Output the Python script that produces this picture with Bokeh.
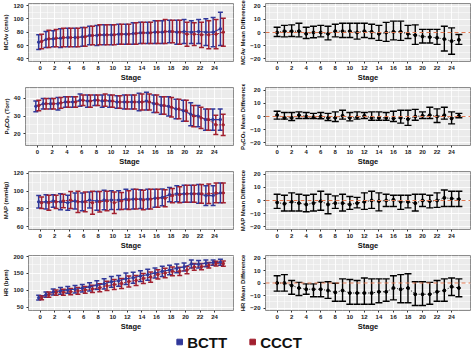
from bokeh.plotting import figure
from bokeh.models import (ColumnDataSource, Whisker, TeeHead, Span, FixedTicker,
                          Legend, LegendItem, Range1d)
from bokeh.layouts import column, row
from bokeh.transform import dodge
from bokeh.embed import file_html
from bokeh.resources import INLINE

stages = list(range(26))
x_ticks = list(range(0, 25, 2))
x_minor = list(range(-1, 27, 2))

# ---- MCAv ----
mcav_bctt_mean = [65, 69, 70, 71, 72, 72, 73, 75, 75, 76, 76, 77, 77, 78, 79, 79, 80, 80, 81, 80, 81, 80, 81, 80, 80, 85]
mcav_bctt_sd = [11, 12, 12, 14, 14, 14, 14, 14, 15, 15, 15, 15, 15, 16, 16, 16, 17, 17, 17, 18, 18, 17, 18, 20, 22, 25]
mcav_ccct_mean = [66, 70, 71, 72, 72, 72, 73, 75, 76, 76, 76, 77, 77, 78, 79, 79, 80, 81, 81, 80, 77, 77, 76, 76, 77, 80]
mcav_ccct_sd = [11, 13, 13, 14, 14, 14, 14, 14, 15, 15, 15, 15, 15, 16, 16, 16, 17, 18, 17, 18, 18, 17, 19, 21, 22, 21]
mcav_diff_mean = [0, 1, 1, 1, -1, 0, 0, -1, 1, 1, 1, 0, 1, 0.5, -1, 0, 0.5, 0.5, -1, -2, -3, -3.5, -4, -5, -6.5, -5.5]
mcav_diff_hi = [4, 5.4, 5.8, 7, 4, 4.7, 5.4, 4.7, 6.3, 7, 7, 7, 7, 6.3, 5.4, 7.7, 8.6, 8.6, 5.4, 5.8, 2.4, 2.4, 2.4, 4.7, 3.5, -1.5]
mcav_diff_lo = [-3, -3.3, -3, -3.3, -4.5, -4, -3.3, -5.6, -3.3, -3.8, -3.8, -5, -3.8, -4.5, -6, -6.7, -5.6, -6, -4.5, -9, -8, -8, -9, -14, -16.5, -9]

# ---- PETCO2 ----
pet_bctt_mean = [35.5, 37, 37, 37, 38, 38, 39, 38.5, 39, 38.5, 38.5, 38, 38, 38, 38, 38.5, 37, 36, 35.5, 34, 33, 31, 30, 28, 28, 28]
pet_bctt_sd = [3, 3, 3, 3.5, 3, 3, 3.5, 3.5, 3, 3.5, 3.5, 3.5, 4, 4, 5, 5, 5, 5, 5.5, 5.5, 6, 6.5, 6, 6, 6, 6]
pet_ccct_mean = [36, 37, 37, 37.5, 38, 38, 39, 38.5, 39, 39, 38.5, 38, 38, 38, 38, 38, 37, 36, 35, 34, 33, 30, 29, 28, 25, 25]
pet_ccct_sd = [3, 3, 3, 3, 3, 3, 3, 3.5, 3, 3.5, 3.5, 3.5, 4, 4, 4.5, 4.5, 5, 5, 5.5, 5.5, 6, 6, 6, 6, 5.5, 6]
pet_diff_mean = [1, -1, -1, 1, 0, -0.5, 0, -1, -1, 0.5, -1, -0.5, 0.5, -1, -1, -1, -1.5, -1, -2, 0, 0.5, 1, 0, 1, -1.5, 0.5]
pet_diff_hi = [4, 3, 3, 3.5, 3, 2.4, 3, 2.4, 3.5, 4.7, 3, 3.5, 3, 3.5, 3.5, 3, 4, 4.7, 4.7, 5.4, 3.5, 7, 5.8, 7, 3.5, 2.4]
pet_diff_lo = [-2, -2, -3, -1.5, -1.5, -1.5, -1.7, -3, -3.8, -2, -3.3, -2, -1.5, -2.9, -2.9, -2.9, -3.8, -5, -6.7, -2.9, -1.5, -1.5, -4.5, -2, -5.6, -1]

# ---- MAP ----
map_bctt_mean = [88, 88, 89, 88, 87, 89, 88, 90, 89, 90, 90, 90, 91, 91, 91, 91, 92, 93, 96, 97, 97, 97, 97, 95, 95, 98]
map_bctt_sd = [7, 8, 7, 9, 8.5, 9, 10, 9, 10.5, 11, 10.5, 10.5, 11, 11, 10.5, 11, 10, 9.5, 8, 9, 9.5, 9.5, 10.5, 11, 11, 11]
map_ccct_mean = [87, 87, 88, 89, 90, 88, 88, 87, 88, 89, 87, 89, 90, 91, 90, 91, 92, 92, 95, 96, 97, 97, 97, 97, 98, 98]
map_ccct_sd = [6.5, 8.5, 7.5, 7.5, 9.5, 12, 11, 13, 11.5, 11, 12, 9.5, 10.5, 11, 11, 11, 10, 9.5, 8, 9, 9.5, 9.5, 10.5, 11, 11, 11]
map_diff_mean = [-1.5, -2.5, -1, -2, -3, -2, -0.5, -3, -2, -2, -3, -2, -1, 0, -0.5, 0, 0.5, -1, -1, -2, 0, -0.5, 0, 2, 1.5, 1]
map_diff_hi = [4.7, 4, 5.8, 4.7, 4, 4.7, 7, 4.7, 3.5, 4.7, 3, 2.4, 5.8, 7, 5.8, 4.7, 4, 4, 4, 4.7, 4.7, 4, 5.8, 8, 7, 7]
map_diff_lo = [-6, -8, -8, -8, -8.5, -8, -7.4, -10, -6, -8, -6.7, -5.6, -6.7, -6, -7.9, -4.5, -4.5, -6.7, -5.6, -8, -4.5, -5.6, -5.2, -4.5, -4.5, -4.5]

# ---- HR ----
hr_bctt_mean = [78, 87, 95, 98, 101, 103, 106, 110, 115, 119, 125, 128, 134, 137, 142, 146, 151, 156, 160, 165, 169, 178, 177, 180, 182, 183]
hr_bctt_sd = [7, 8, 9, 10, 10, 11, 11, 12, 13, 15, 16, 16, 17, 16, 16, 16, 15, 15, 14, 13, 12, 12, 11, 10, 8, 9]
hr_ccct_mean = [78, 87, 93, 94, 96, 98, 101, 104, 107.5, 113, 117, 120, 126, 129, 135, 139, 147, 151, 156, 156, 160, 169, 170, 174, 179, 179]
hr_ccct_sd = [6, 8, 8, 9, 9, 10, 10, 11, 12, 14, 15, 15, 16, 15, 15, 15, 14, 14, 13, 12, 11, 10, 9, 8, 7, 8]
hr_diff_mean = [0, 0, -2, -4, -5, -5, -5, -6, -7.5, -6, -8, -8, -8, -8, -7, -7, -4, -5, -4, -9, -9, -9, -7, -6, -3, -4]
hr_diff_hi = [5.8, 6.7, 2, 0.5, -0.7, -0.7, 0.5, 1, -0.2, 3.3, 2.8, 2, 4, 3.3, 3.3, 3.3, 5.8, 6.7, 7.4, 1, 1, 0.5, 2, 3.3, 4, 3.3]
hr_diff_lo = [-6.5, -6.5, -9, -10, -9, -11, -11, -12.3, -14.6, -14.6, -17, -17, -17, -17, -15.8, -14.6, -13.5, -15.8, -15.8, -18, -18, -17, -14.6, -14.6, -10, -11]

group_labels = ["BCTT", "CCCT"]

BLUE = "#30389A"
RED = "#A2202F"
FONT = "Liberation Sans"


def base_fig(yr, yticks, yminor, ylabel, h=84, bottom=18):
    p = figure(width=237, height=h, x_range=Range1d(-1.6, 26.6), y_range=Range1d(*yr),
               output_backend="svg", toolbar_location=None,
               min_border_left=23, min_border_right=4, min_border_top=3,
               min_border_bottom=bottom)
    p.background_fill_color = "#EBEBEB"
    p.border_fill_color = "white"
    p.outline_line_color = "#8C8C8C"
    p.outline_line_width = 1
    p.xaxis.ticker = FixedTicker(ticks=x_ticks, minor_ticks=x_minor)
    p.yaxis.ticker = FixedTicker(ticks=yticks, minor_ticks=yminor)
    p.grid.grid_line_color = "white"
    p.grid.grid_line_width = 0.9
    p.grid.minor_grid_line_color = "white"
    p.grid.minor_grid_line_width = 0.5
    for ax in p.axis:
        ax.axis_line_color = None
        ax.major_tick_line_color = "#333333"
        ax.major_tick_out = 2
        ax.major_tick_in = 0
        ax.minor_tick_line_color = None
        ax.major_label_text_font = FONT
        ax.major_label_text_font_style = "bold"
        ax.major_label_text_font_size = "6px"
        ax.major_label_text_color = "#222222"
        ax.major_label_standoff = 1
        ax.axis_label_text_font = FONT
        ax.axis_label_text_font_style = "bold"
        ax.axis_label_standoff = 1
        ax.axis_label_text_color = "#111111"
    p.xaxis.axis_label = "Stage"
    p.xaxis.axis_label_text_font_size = "7.5px"
    p.xaxis.axis_label_standoff = 0
    p.xaxis.major_label_standoff = 0
    p.yaxis.axis_label = ylabel
    p.yaxis.axis_label_text_font_size = "6px"
    return p


def left_panel(yr, yticks, yminor, ylabel, bm, bs, cm, cs, h=84, bottom=18):
    p = base_fig(yr, yticks, yminor, ylabel, h, bottom)
    src = ColumnDataSource(dict(
        stage=stages, bm=bm, cm=cm,
        blo=[m - s for m, s in zip(bm, bs)], bhi=[m + s for m, s in zip(bm, bs)],
        clo=[m - s for m, s in zip(cm, cs)], chi=[m + s for m, s in zip(cm, cs)]))
    for lo, hi, col, off in (("blo", "bhi", BLUE, -0.2), ("clo", "chi", RED, 0.2)):
        w = Whisker(source=src, base=dodge("stage", off), lower=lo, upper=hi,
                    line_color=col, line_width=1.5,
                    upper_head=TeeHead(size=5, line_color=col, line_width=1.5),
                    lower_head=TeeHead(size=5, line_color=col, line_width=1.5))
        p.add_layout(w)
    p.line(x=dodge("stage", -0.2), y="bm", source=src, line_color=BLUE, line_width=1.1)
    p.line(x=dodge("stage", 0.2), y="cm", source=src, line_color=RED, line_width=1.0,
           line_dash="2 1")
    p.scatter(x=dodge("stage", -0.2), y="bm", source=src, size=2.5, color=BLUE)
    p.scatter(x=dodge("stage", 0.2), y="cm", source=src, size=2.5, color=RED)
    return p


def right_panel(ylabel, dm, dlo, dhi, h=84, bottom=18):
    p = base_fig((-22, 22), [-20, -10, 0, 10, 20], [-15, -5, 5, 15], ylabel, h, bottom)
    src = ColumnDataSource(dict(stage=stages, dm=dm, lo=dlo, hi=dhi))
    p.add_layout(Span(location=0, dimension="width", line_color="#E0764F",
                      line_width=1, line_dash="4 3"))
    w = Whisker(source=src, base="stage", lower="lo", upper="hi",
                line_color="black", line_width=1.4,
                upper_head=TeeHead(size=7, line_color="black", line_width=1.4),
                lower_head=TeeHead(size=7, line_color="black", line_width=1.4))
    p.add_layout(w)
    p.line(x="stage", y="dm", source=src, line_color="black", line_width=1, line_dash="1 2")
    p.scatter(x="stage", y="dm", source=src, size=3, color="black")
    return p


l1 = left_panel((36, 123), [40, 60, 80, 100, 120], [50, 70, 90, 110], "MCAv (cm/s)",
                mcav_bctt_mean, mcav_bctt_sd, mcav_ccct_mean, mcav_ccct_sd)
r1 = right_panel("MCAv Mean Difference", mcav_diff_mean, mcav_diff_lo, mcav_diff_hi)
l2 = left_panel((13.3, 46.2), [20, 30, 40], [15, 25, 35, 45], "P\u2091\u209cCO\u2082 (Torr)",
                pet_bctt_mean, pet_bctt_sd, pet_ccct_mean, pet_ccct_sd)
r2 = right_panel("P\u2091\u209cCO\u2082 Mean Difference", pet_diff_mean, pet_diff_lo, pet_diff_hi)
l3 = left_panel((57, 122), [60, 80, 100, 120], [70, 90, 110], "MAP (mmHg)",
                map_bctt_mean, map_bctt_sd, map_ccct_mean, map_ccct_sd)
r3 = right_panel("MAP Mean Difference", map_diff_mean, map_diff_lo, map_diff_hi)
l4 = left_panel((40, 203), [50, 100, 150, 200], [75, 125, 175], "HR (bpm)",
                hr_bctt_mean, hr_bctt_sd, hr_ccct_mean, hr_ccct_sd, h=81, bottom=17)
r4 = right_panel("HR Mean Difference", hr_diff_mean, hr_diff_lo, hr_diff_hi, h=81, bottom=17)

# legend strip (legend glyphs sit outside the visible range; only the legend shows)
lg = figure(width=474, height=17, output_backend="svg", toolbar_location=None,
            x_range=Range1d(0, 1), y_range=Range1d(0, 1), min_border=0)
lg.axis.visible = False
lg.grid.visible = False
lg.outline_line_color = None
rb = lg.scatter(x=[-5], y=[-5], marker="square", color=BLUE)
rc = lg.scatter(x=[-5], y=[-5], marker="square", color=RED)
leg = Legend(items=[LegendItem(label=group_labels[0], renderers=[rb]),
                    LegendItem(label=group_labels[1], renderers=[rc])],
             orientation="horizontal", location="center",
             border_line_color=None, background_fill_alpha=0,
             padding=0, margin=0, spacing=18, label_standoff=1,
             glyph_width=14, glyph_height=14,
             label_text_font=FONT, label_text_font_style="bold",
             label_text_font_size="15px", label_text_color="#111111",
             label_height=14)
lg.add_layout(leg, "center")

layout = column(row(l1, r1), row(l2, r2), row(l3, r3), row(l4, r4), lg)

open("out.html", "w").write(file_html(layout, INLINE))
